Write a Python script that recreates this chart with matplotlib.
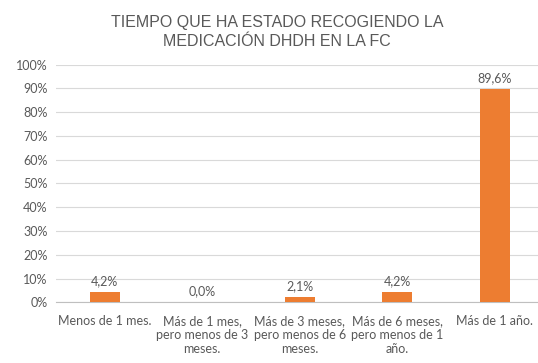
import matplotlib
matplotlib.use("Agg")
import matplotlib.pyplot as plt
from matplotlib.ticker import MultipleLocator, FuncFormatter

categories = [
    "Menos de 1 mes.",
    "Más de 1 mes,\npero menos de 3\nmeses.",
    "Más de 3 meses,\npero menos de 6\nmeses.",
    "Más de 6 meses,\npero menos de 1\naño.",
    "Más de 1 año.",
]
values = [4.2, 0.0, 2.1, 4.2, 89.6]
value_labels = ["4,2%", "0,0%", "2,1%", "4,2%", "89,6%"]
title = "TIEMPO QUE HA ESTADO RECOGIENDO LA\nMEDICACIÓN DHDH EN LA FC"

bar_color = "#ED7D31"
text_color = "#595959"
grid_color = "#D9D9D9"

fig = plt.figure(figsize=(5.38, 3.63), dpi=100)
ax = fig.add_axes([0.1041, 0.1667, 0.906, 0.6556])

x = list(range(len(categories)))
ax.bar(x, values, width=0.31, color=bar_color, zorder=3)

for xi, v, lab in zip(x, values, value_labels):
    ax.annotate(lab, (xi, v), xytext=(0, 4), textcoords="offset points",
                ha="center", va="bottom", fontsize=9, color=text_color,
                family="Lato")

ax.set_xlim(-0.5, len(categories) - 0.5)
ax.set_ylim(0, 100)
ax.yaxis.set_major_locator(MultipleLocator(10))
ax.yaxis.set_major_formatter(FuncFormatter(lambda v, p: f"{int(round(v))}%"))
ax.set_xticks(x)
ax.set_xticklabels(categories, fontsize=9, color=text_color, family="Lato",
                   linespacing=1.2)
for lbl in ax.get_yticklabels():
    lbl.set_fontsize(9)
    lbl.set_color(text_color)
    lbl.set_family("Lato")

ax.tick_params(axis="both", length=0, pad=6)
ax.tick_params(axis="x", pad=9)
ax.grid(axis="y", color=grid_color, linewidth=0.8, zorder=0)
for side in ["top", "right", "left"]:
    ax.spines[side].set_visible(False)
ax.spines["bottom"].set_color("#BFBFBF")
ax.spines["bottom"].set_linewidth(0.8)

fig.text(0.515, 0.96, title, ha="center", va="top", fontsize=11.5,
         color=text_color, family="Liberation Sans", linespacing=1.4)

fig.savefig("out.png", dpi=100)
